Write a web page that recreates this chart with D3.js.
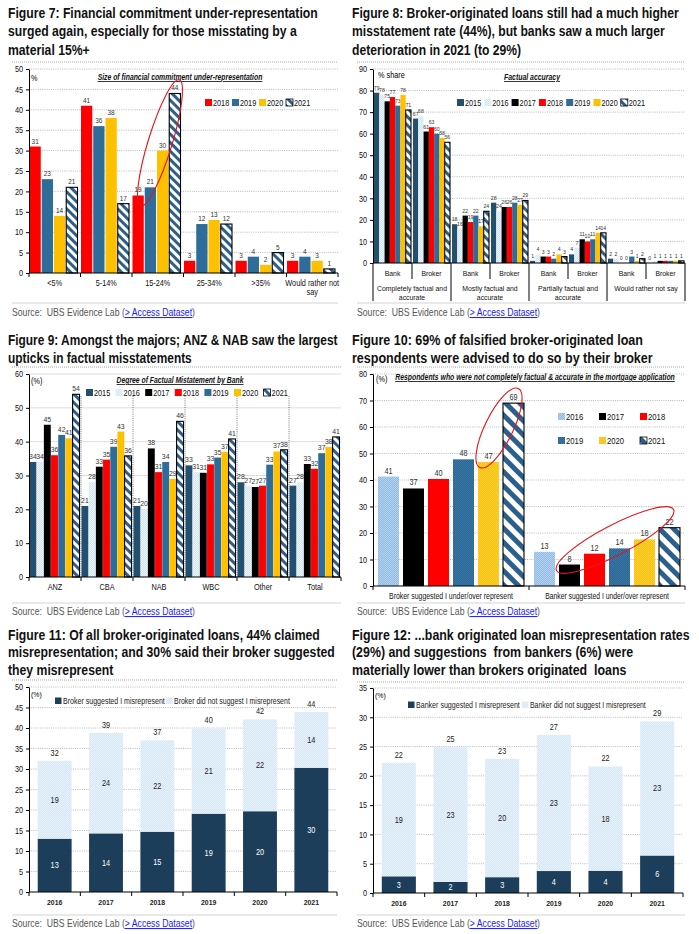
<!DOCTYPE html>
<html>
<head>
<meta charset="utf-8">
<script src="https://cdn.jsdelivr.net/npm/d3@7"></script>
<style>
  body { margin: 0; background: #fff; }
  svg text { font-family: "Liberation Sans", Arial, sans-serif; white-space: pre; }
  .ttl { font-weight: bold; font-size: 14.5px; fill: #111; }
  .src { font-size: 10px; fill: #555; }
  .ctitle { font-weight: bold; font-style: italic; text-decoration: underline; fill: #111; }
</style>
</head>
<body>
<svg id="chart" width="699" height="934"></svg>
<script>
// ---- Figure 7 ----
const f7Cats = ["<5%", "5-14%", "15-24%", "25-34%", ">35%", "Would rather not say"];
const f7Years = ["2018", "2019", "2020", "2021"];
const f7Vals = [
  [31, 41, 19, 3, 3, 3],
  [23, 36, 21, 12, 4, 4],
  [14, 38, 30, 13, 2, 3],
  [21, 17, 44, 12, 5, 1]
];
const f7Ticks = d3.range(0, 51, 5);

// ---- Figure 8 ----
const f8Groups = [["Completely factual and", "accurate"], ["Mostly factual and", "accurate"], ["Partially factual and", "accurate"], ["Would rather not say"]];
const f8Subs = ["Bank", "Broker"];
const f8Years = ["2015", "2016", "2017", "2018", "2019", "2020", "2021"];
const f8Vals = [          // Bank, Broker per group
  [79, 67, 18, 28, 1, 4, 2, 0],
  [78, 68, 16, 24, 4, 7, 2, 1],
  [75, 61, 22, 26, 3, 11, 0, 1],
  [77, 63, 19, 26, 3, 10, 0, 1],
  [73, 60, 22, 28, 2, 11, 3, 1],
  [78, 58, 17, 27, 4, 14, 1, 1],
  [71, 56, 24, 29, 3, 14, 2, 1]
];
const f8Ticks = d3.range(0, 91, 10);

// ---- Figure 9 ----
const f9Cats = ["ANZ", "CBA", "NAB", "WBC", "Other", "Total"];
const f9Years = ["2015", "2016", "2017", "2018", "2019", "2020", "2021"];
const f9Vals = [
  [34, 21, 21, 33, 28, 27],
  [34, 28, 20, 31, 27, 28],
  [45, 32.6, 38, 30.8, 26.6, 33.4],
  [36, 34.7, 31, 33.3, 27, 32],
  [42, 38.5, 34, 35.3, 33.2, 36.6],
  [41, 43, 29, 37, 37.1, 38.4],
  [54, 35.8, 46, 40.8, 37.6, 41.4]
];
const f9Ticks = d3.range(0, 61, 10);

// ---- Figure 10 ----
const f10Cats = ["Broker suggested I under/over represent", "Banker suggested I under/over represent"];
const f10Years = ["2016", "2017", "2018", "2019", "2020", "2021"];
const f10Vals = [
  [41.3, 12.9],
  [36.8, 8.1],
  [40.4, 12.2],
  [47.8, 14.2],
  [46.8, 17.6],
  [69, 22]
];
const f10Ticks = d3.range(0, 81, 10);

// ---- Figure 11 ----
const f11Years = ["2016", "2017", "2018", "2019", "2020", "2021"];
const f11Suggested = [13, 14.3, 14.7, 19.1, 19.7, 30.3];
const f11NotSuggested = [19, 24.5, 22.3, 20.8, 22.4, 13.6];
const f11Ticks = d3.range(0, 51, 5);

// ---- Figure 12 ----
const f12Years = ["2016", "2017", "2018", "2019", "2020", "2021"];
const f12Suggested = [2.85, 1.9, 2.7, 3.75, 3.8, 6.4];
const f12NotSuggested = [19.35, 23, 20.2, 23.25, 17.8, 22.9];
const f12Ticks = d3.range(0, 36, 5);

const svg = d3.select("#chart");
svg.append("rect").attr("width", 699).attr("height", 934).attr("fill", "#fff");
const fmt = d3.format(".0f");

// patterns
const defs = svg.append("defs");
function hatch(id, size, color) {
  const p = defs.append("pattern").attr("id", id).attr("patternUnits", "userSpaceOnUse")
    .attr("width", size).attr("height", size).attr("patternTransform", "rotate(-45)");
  p.append("rect").attr("width", size).attr("height", size).attr("fill", "#fff");
  p.append("rect").attr("width", size / 2).attr("height", size).attr("fill", color);
}
function dots(id, a, b) {
  const p = defs.append("pattern").attr("id", id).attr("patternUnits", "userSpaceOnUse")
    .attr("width", 2).attr("height", 2);
  p.append("rect").attr("width", 2).attr("height", 2).attr("fill", a);
  p.append("rect").attr("width", 1).attr("height", 1).attr("fill", b);
  p.append("rect").attr("x", 1).attr("y", 1).attr("width", 1).attr("height", 1).attr("fill", b);
}
hatch("hatchA", 6, "#2B5F8C");
hatch("hatchB", 10, "#2B5F8C");
dots("pale", "#D0E3F5", "#EEF5FC");
dots("pale2", "#D3E6F7", "#EAF3FC");
dots("lblue", "#92BCE3", "#B3D1EE");
dots("gold", "#FFC000", "#FFCF40");
dots("steel", "#2A6593", "#3A78A6");

const RED = "#FF0000", STEEL = "#2E6C99", GOLD = "#FFC000", NAVY = "#23506E", DARK = "#1C3E5A";

// squeeze a text horizontally about its anchor x
function squeeze(node, k) {
  const x = +node.getAttribute("x") || 0;
  node.setAttribute("transform", `translate(${x},0) scale(${k},1) translate(${-x},0)`);
}
function fitW(sel, w) {
  sel.classed("fit", true);
  const n = sel.node();
  squeeze(n, w / n.getComputedTextLength());
  return sel;
}

// helpers
function title(x, y, lines, w, gap = 18.3) {
  const t = svg.append("text").attr("class", "ttl").attr("x", x).attr("y", y);
  lines.forEach((l, i) => t.append("tspan").attr("x", x).attr("dy", i ? gap : 0).text(l));
  const first = t.select("tspan").node().getComputedTextLength();
  squeeze(t.node(), w / first);
}
function source(x, y, x2, lineY) {
  svg.append("line").attr("x1", x).attr("x2", x2).attr("y1", lineY).attr("y2", lineY)
    .attr("stroke", "#c8c8c8").attr("stroke-width", 0.8);
  const t = svg.append("text").attr("class", "src").attr("x", x).attr("y", y);
  t.append("tspan").text("Source:  UBS Evidence Lab (");
  t.append("tspan").attr("fill", "#1a1aff").attr("text-decoration", "underline").text("> Access Dataset");
  t.append("tspan").text(")");
  squeeze(t.node(), 183 / t.node().getComputedTextLength());
}
function topRule(x1, x2, y) {
  svg.append("line").attr("x1", x1).attr("x2", x2).attr("y1", y).attr("y2", y)
    .attr("stroke", "#a0a0a0").attr("stroke-width", 0.9).attr("stroke-dasharray", "1,1");
}
function grid(g, y, ticks, x0, x1, solid) {
  g.append("g").selectAll("line").data(ticks.filter(t => t > 0)).join("line")
    .attr("x1", x0).attr("x2", x1).attr("y1", d => y(d)).attr("y2", d => y(d))
    .attr("stroke", solid ? "#d4d4d4" : "#a8a8a8").attr("stroke-width", 0.8)
    .attr("stroke-dasharray", solid ? null : "1,1.2");
}
function yAxis(g, y, ticks, x0) {
  const a = g.append("g").attr("transform", `translate(${x0},0)`)
    .call(d3.axisLeft(y).tickValues(ticks).tickSize(3).tickPadding(3).tickSizeOuter(0));
  a.attr("font-size", 8.5).attr("font-family", null);
  a.select(".domain").attr("stroke", "#000");
  a.selectAll(".tick line").attr("stroke", "#000");
  a.selectAll(".tick text").attr("fill", "#111");
}
function xLine(g, x0, x1, y0, ticks, len) {
  g.append("line").attr("x1", x0).attr("x2", x1).attr("y1", y0).attr("y2", y0).attr("stroke", "#000");
  g.append("g").selectAll("line").data(ticks).join("line")
    .attr("x1", d => d).attr("x2", d => d).attr("y1", y0).attr("y2", y0 + len).attr("stroke", "#000");
}
function legend(g, items, x, y, step, fs) {
  items.forEach((it, i) => {
    const lx = x + i * step;
    g.append("rect").attr("x", lx).attr("y", y - 7).attr("width", 7).attr("height", 7)
      .attr("fill", it.fill).attr("stroke", it.stroke || "none").attr("stroke-width", 0.8);
    g.append("text").attr("x", lx + 8).attr("y", y).attr("font-size", fs).attr("fill", "#111").text(it.label);
  });
}
function ellipse(cx, cy, rx, ry, ang) {
  svg.append("ellipse").attr("cx", 0).attr("cy", 0).attr("rx", rx).attr("ry", ry)
    .attr("transform", `translate(${cx},${cy}) rotate(${ang})`)
    .attr("fill", "none").attr("stroke", "#E8141B").attr("stroke-width", 1.1);
}
function groupedBars(g, cats, years, vals, x0, x1, y, fills, labelSize) {
  years.forEach((yr, si) => {
    const isHatch = String(fills[si]).includes("hatch");
    g.append("g").selectAll("rect").data(cats).join("rect")
      .attr("x", c => x0(c) + x1(yr)).attr("width", x1.bandwidth())
      .attr("y", (c, i) => y(vals[si][i])).attr("height", (c, i) => y(0) - y(vals[si][i]))
      .attr("fill", fills[si])
      .attr("stroke", isHatch ? "#000" : "none").attr("stroke-width", isHatch ? 1.1 : 0);
    g.append("g").selectAll("text").data(cats).join("text")
      .attr("x", c => x0(c) + x1(yr) + x1.bandwidth() / 2)
      .attr("y", (c, i) => y(vals[si][i]) - 3)
      .attr("text-anchor", "middle").attr("font-size", labelSize).attr("fill", "#333")
      .text((c, i) => fmt(vals[si][i]));
  });
}

// ================= Figure 7 =================
title(8, 18, ["Figure 7: Financial commitment under-representation", "surged again, especially for those misstating by a", "material 15%+"], 310);
topRule(12, 338, 62);
{
  const L = 29, R = 338, T = 69, B = 273;
  const g = svg.append("g");
  const y = d3.scaleLinear().domain([0, 50]).range([B, T]);
  const x0 = d3.scaleBand().domain(f7Cats).range([L, R]);
  const x1 = d3.scaleBand().domain(f7Years).range([0.5, 48.5]).paddingInner(0.08);
  grid(g, y, f7Ticks, L, R, false);
  groupedBars(g, f7Cats, f7Years, f7Vals, x0, x1, y, [RED, STEEL, GOLD, "url(#hatchA)"], 7.5);
  xLine(g, L, R, B, f7Cats.map(c => x0(c) + x0.step()).slice(0, -1).concat([L, R]), 4);
  yAxis(g, y, f7Ticks, L);
  f7Cats.forEach(c => {
    const parts = c === "Would rather not say" ? ["Would rather not", "say"] : [c];
    parts.forEach((p, i) => g.append("text").attr("x", x0(c) + x0.step() / 2).attr("y", 286 + i * 9.5)
      .attr("text-anchor", "middle").attr("font-size", 8.5).attr("fill", "#111").text(p));
  });
  g.append("text").attr("x", 31).attr("y", 81).attr("font-size", 8.5).text("%");
  fitW(g.append("text").attr("class", "ctitle").attr("x", 180).attr("y", 80).attr("text-anchor", "middle")
    .attr("font-size", 8.5).text("Size of financial commitment under-representation"), 165);
  legend(g, f7Years.map((yr, i) => ({label: yr, fill: [RED, STEEL, GOLD, "url(#hatchA)"][i], stroke: i === 3 ? "#000" : null})), 205, 106, 27, 8.5);
}
ellipse(160, 143, 66, 12, -73);
source(12, 316, 338, 303);

// ================= Figure 8 =================
title(352, 18, ["Figure 8: Broker-originated loans still had a much higher", "misstatement rate (44%), but banks saw a much larger", "deterioration in 2021 (to 29%)"], 327);
topRule(357, 685, 62);
{
  const L = 373, R = 685, T = 69, B = 263;
  const g = svg.append("g");
  const subKeys = d3.range(f8Groups.length * 2);
  const y = d3.scaleLinear().domain([0, 90]).range([B, T]);
  const x0 = d3.scaleBand().domain(subKeys).range([L, R]);
  const x1 = d3.scaleBand().domain(f8Years).range([1, 38]).paddingInner(0);
  const fills = [NAVY, "url(#pale)", "#000", RED, STEEL, GOLD, "url(#hatchA)"];
  grid(g, y, f8Ticks, L, R, false);
  groupedBars(g, subKeys, f8Years, f8Vals, x0, x1, y, fills, 6);
  g.append("line").attr("x1", L).attr("x2", R).attr("y1", B).attr("y2", B).attr("stroke", "#000");
  subKeys.concat([subKeys.length]).forEach(k => {
    const xx = L + k * x0.step();
    g.append("line").attr("x1", xx).attr("x2", xx).attr("y1", B).attr("y2", k % 2 ? 279 : 301).attr("stroke", "#000");
  });
  subKeys.forEach(k => g.append("text").attr("x", x0(k) + x0.step() / 2).attr("y", 276)
    .attr("text-anchor", "middle").attr("font-size", 8).attr("fill", "#111").text(f8Subs[k % 2]));
  f8Groups.forEach((lines, gi) => lines.forEach((l, i) => g.append("text")
    .attr("x", L + (gi * 2 + 1) * x0.step()).attr("y", 291 + i * 9.5)
    .attr("text-anchor", "middle").attr("font-size", 8).attr("fill", "#111").text(l)));
  yAxis(g, y, f8Ticks, L);
  g.append("text").attr("x", 378).attr("y", 78).attr("font-size", 8.5).text("% share");
  fitW(g.append("text").attr("class", "ctitle").attr("x", 532).attr("y", 80).attr("text-anchor", "middle")
    .attr("font-size", 8.5).text("Factual accuracy"), 56);
  legend(g, f8Years.map((yr, i) => ({label: yr, fill: fills[i], stroke: i === 6 ? "#000" : null})), 457, 106, 27.3, 8.5);
}
source(357, 316, 685, 303);

// ================= Figure 9 =================
title(8, 345, ["Figure 9: Amongst the majors; ANZ & NAB saw the largest", "upticks in factual misstatements"], 330);
topRule(12, 341, 367);
{
  const L = 29, R = 341, T = 374, B = 577;
  const g = svg.append("g");
  const y = d3.scaleLinear().domain([0, 60]).range([B, T]);
  const x0 = d3.scaleBand().domain(f9Cats).range([L, R]);
  const x1 = d3.scaleBand().domain(f9Years).range([0.5, 50.5]).paddingInner(0.04);
  const fills = [NAVY, "url(#pale)", "#000", RED, STEEL, GOLD, "url(#hatchA)"];
  grid(g, y, f9Ticks, L, R, true);
  f9Cats.slice(1).forEach(c => g.append("line").attr("x1", x0(c)).attr("x2", x0(c)).attr("y1", 396).attr("y2", B)
    .attr("stroke", "#555").attr("stroke-width", 0.8).attr("stroke-dasharray", "1,1.2"));
  groupedBars(g, f9Cats, f9Years, f9Vals, x0, x1, y, fills, 8);
  xLine(g, L, R, B, f9Cats.map(c => x0(c)).concat([R]), 4);
  yAxis(g, y, f9Ticks, L);
  f9Cats.forEach(c => g.append("text").attr("x", x0(c) + x0.step() / 2).attr("y", 590)
    .attr("text-anchor", "middle").attr("font-size", 8.5).attr("fill", "#111").text(c));
  g.append("text").attr("x", 31).attr("y", 384).attr("font-size", 8.5).text("(%)");
  fitW(g.append("text").attr("class", "ctitle").attr("x", 180).attr("y", 383).attr("text-anchor", "middle")
    .attr("font-size", 8.5).text("Degree of Factual Mistatement by Bank"), 127);
  legend(g, f9Years.map((yr, i) => ({label: yr, fill: fills[i], stroke: i === 6 ? "#000" : null})), 86, 396, 29.6, 8.5);
}
source(12, 615, 341, 603);

// ================= Figure 10 =================
title(352, 345, ["Figure 10: 69% of falsified broker-originated loan", "respondents were advised to do so by their broker"], 291);
topRule(357, 685, 367);
{
  const L = 373, R = 685, T = 374, B = 586;
  const g = svg.append("g");
  const y = d3.scaleLinear().domain([0, 80]).range([B, T]);
  const x0 = d3.scaleBand().domain(f10Cats).range([L, R]);
  const x1 = d3.scaleBand().domain(f10Years).range([5, 151]).paddingInner(0.16);
  const fills = ["url(#lblue)", "#000", RED, "url(#steel)", "url(#gold)", "url(#hatchB)"];
  grid(g, y, f10Ticks, L, R, false);
  groupedBars(g, f10Cats, f10Years, f10Vals, x0, x1, y, fills, 8.5);
  xLine(g, L, R, B, [L, x0(f10Cats[1]), R], 4);
  yAxis(g, y, f10Ticks, L);
  f10Cats.forEach(c => fitW(g.append("text").attr("x", x0(c) + x0.step() / 2).attr("y", 599)
    .attr("text-anchor", "middle").attr("font-size", 8.5).attr("fill", "#111").text(c), 124));
  g.append("text").attr("x", 376).attr("y", 382).attr("font-size", 8.5).text("(%)");
  fitW(g.append("text").attr("class", "ctitle").attr("x", 535).attr("y", 380).attr("text-anchor", "middle")
    .attr("font-size", 8.5).text("Respondents who were not completely factual & accurate in the mortgage application"), 280);
  const items = f10Years.map((yr, i) => ({label: yr, fill: fills[i], stroke: i === 5 ? "#000" : null}));
  legend(g, items.slice(0, 3), 558, 420, 41, 9);
  legend(g, items.slice(3), 558, 444, 41, 9);
}
ellipse(499, 428, 44, 14, -64);
ellipse(615, 540, 66, 15, -27.5);
source(357, 615, 685, 603);

// ================= Figure 11 / 12 (stacked) =================
function stacked(opts) {
  const {L, R, T, B, max, ticks, years, low, high, labels, legX, legW} = opts;
  const g = svg.append("g");
  const y = d3.scaleLinear().domain([0, max]).range([B, T]);
  const x = d3.scaleBand().domain(years).range([L, R]).paddingInner(0.34).paddingOuter(0.17);
  grid(g, y, ticks, L, R, false);
  const stack = d3.stack().keys(["low", "high"])(years.map((yr, i) => ({yr, low: low[i], high: high[i]})));
  const fills = [DARK, "url(#pale2)"];
  stack.forEach((s, si) => {
    g.append("g").selectAll("rect").data(s).join("rect")
      .attr("x", d => x(d.data.yr)).attr("width", x.bandwidth())
      .attr("y", d => y(d[1])).attr("height", d => y(d[0]) - y(d[1])).attr("fill", fills[si]);
    g.append("g").selectAll("text").data(s).join("text")
      .attr("x", d => x(d.data.yr) + x.bandwidth() / 2).attr("y", d => y((d[0] + d[1]) / 2) + 3)
      .attr("text-anchor", "middle").attr("font-size", 8.5).attr("fill", si ? "#222" : "#fff")
      .text(d => fmt(d[1] - d[0]));
  });
  g.append("g").selectAll("text").data(stack[1]).join("text")
    .attr("x", d => x(d.data.yr) + x.bandwidth() / 2).attr("y", d => y(d[1]) - 5)
    .attr("text-anchor", "middle").attr("font-size", 8.5).attr("fill", "#222").text(d => fmt(d[1]));
  xLine(g, L, R, B, years.map(yr => x(yr) - x.step() * 0.17).concat([R]), 4);
  yAxis(g, y, ticks, L);
  years.forEach(yr => g.append("text").attr("x", x(yr) + x.bandwidth() / 2).attr("y", B + 13)
    .attr("text-anchor", "middle").attr("font-size", 8).attr("font-weight", "bold").attr("fill", "#222").text(yr));
  g.append("text").attr("x", L + 2).attr("y", T + 10).attr("font-size", 8).text("(%)");
  labels.forEach((lab, i) => {
    g.append("rect").attr("x", legX[i]).attr("y", opts.legY - 6.5).attr("width", 6.5).attr("height", 6.5).attr("fill", fills[i]);
    fitW(g.append("text").attr("x", legX[i] + 8).attr("y", opts.legY).attr("font-size", 8.5).attr("fill", "#222").text(lab), legW[i]);
  });
}

title(8, 640, ["Figure 11: Of all broker-originated loans, 44% claimed", "misrepresentation; and 30% said their broker suggested", "they misrepresent"], 312, 17.3);
topRule(12, 337, 680);
stacked({L: 29, R: 337, T: 687, B: 892, max: 50, ticks: f11Ticks, years: f11Years,
  low: f11Suggested, high: f11NotSuggested, legY: 704, legX: [55, 166], legW: [102, 116],
  labels: ["Broker suggested I misrepresent", "Broker did not suggest I misrepresent"]});
source(12, 927, 337, 915);

title(352, 640, ["Figure 12: ...bank originated loan misrepresentation rates", "(29%) and suggestions  from bankers (6%) were", "materially lower than brokers originated  loans"], 338, 17.3);
topRule(357, 685, 682);
stacked({L: 373, R: 683, T: 688, B: 893, max: 35, ticks: f12Ticks, years: f12Years,
  low: f12Suggested, high: f12NotSuggested, legY: 708, legX: [408, 522], legW: [104, 116],
  labels: ["Banker suggested I misrepresent", "Banker did not suggest I misrepresent"]});
source(357, 927, 685, 915);

// the reference typeface is narrow: squeeze the remaining chart text
svg.selectAll("text:not(.ttl):not(.src):not(.fit)").each(function () { squeeze(this, 0.86); });
</script>
</body>
</html>
